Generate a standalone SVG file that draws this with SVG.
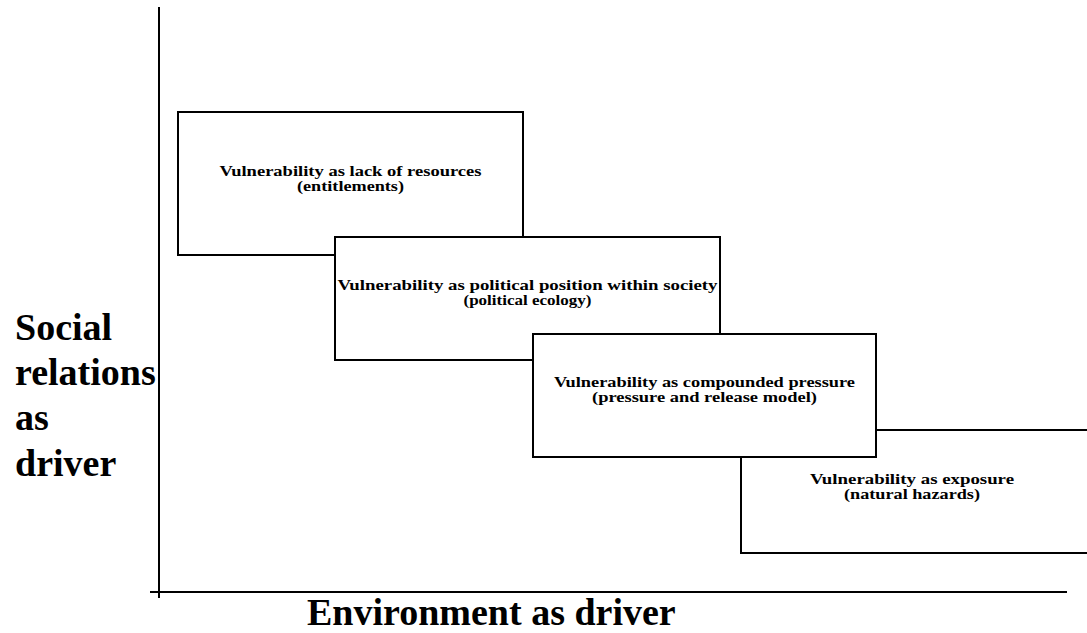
<svg xmlns="http://www.w3.org/2000/svg" width="1087" height="633" viewBox="0 0 1087 633">
<style>
.box{fill:#fff;stroke:#000;stroke-width:2}
.axis{stroke:#000;stroke-width:2;fill:none}
.t{font-family:"Liberation Serif","Times New Roman",serif;font-weight:bold;font-size:14px;fill:#000;text-anchor:middle}
.big{font-family:"Liberation Serif","Times New Roman",serif;font-weight:bold;font-size:38px;fill:#000}
</style>
<rect width="1087" height="633" fill="#fff"/>
<g id="axes">
<line class="axis" x1="159" y1="7" x2="159" y2="598"/>
<line class="axis" x1="150" y1="592" x2="1067" y2="592"/>
</g>
<g id="y-label">
<text class="big" x="15" y="340">Social</text>
<text class="big" x="15" y="385">relations</text>
<text class="big" x="15" y="430">as</text>
<text class="big" x="15" y="476">driver</text>
</g>
<g id="x-label">
<text class="big" x="307" y="625">Environment as driver</text>
</g>
<g id="node1">
<rect class="box" x="178" y="112" width="345" height="143"/>
<text class="t" x="350.5" y="176" textLength="262" lengthAdjust="spacingAndGlyphs">Vulnerability as lack of resources</text>
<text class="t" x="350.5" y="191" textLength="107" lengthAdjust="spacingAndGlyphs">(entitlements)</text>
</g>
<g id="node2">
<rect class="box" x="335" y="237" width="385" height="123"/>
<text class="t" x="527.5" y="290" textLength="380" lengthAdjust="spacingAndGlyphs">Vulnerability as political position within society</text>
<text class="t" x="527.5" y="305" textLength="128" lengthAdjust="spacingAndGlyphs">(political ecology)</text>
</g>
<g id="node4">
<rect class="box" x="741" y="430" width="360" height="123"/>
<text class="t" x="912" y="484" textLength="204" lengthAdjust="spacingAndGlyphs">Vulnerability as exposure</text>
<text class="t" x="912" y="499" textLength="136" lengthAdjust="spacingAndGlyphs">(natural hazards)</text>
</g>
<g id="node3">
<rect class="box" x="533" y="334" width="343" height="123"/>
<text class="t" x="704.5" y="387" textLength="301" lengthAdjust="spacingAndGlyphs">Vulnerability as compounded pressure</text>
<text class="t" x="704.5" y="402" textLength="225" lengthAdjust="spacingAndGlyphs">(pressure and release model)</text>
</g>
<g id="connectors"></g>
</svg>
